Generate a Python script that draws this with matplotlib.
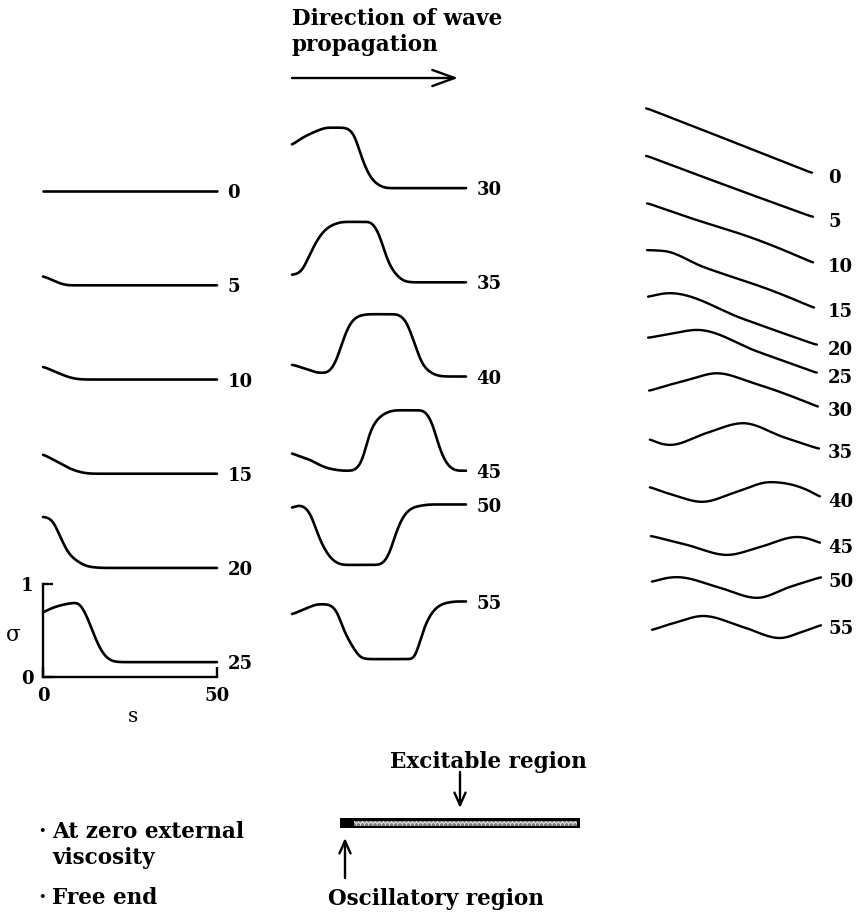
import numpy as np
import matplotlib
matplotlib.use("Agg")
import matplotlib.pyplot as plt
from matplotlib.patches import Rectangle, FancyArrowPatch

plt.rcParams["font.family"] = ["DejaVu Serif"]
plt.rcParams["font.weight"] = "bold"

# ---------------------------------------------------------------------------
# Data: curvature profiles sigma(s) along the filament (s = 0 .. 50)
# ---------------------------------------------------------------------------
S_GRID = [0, 2.5, 5, 7.5, 10, 12.5, 15, 17.5, 20, 22.5, 25,
          27.5, 30, 32.5, 35, 37.5, 40, 42.5, 45, 47.5, 50]

LEFT_TIMES = [0, 5, 10, 15, 20, 25]
MID_TIMES = [30, 35, 40, 45, 50, 55]

sigma_t0 = [0.16, 0.16, 0.16, 0.16, 0.16, 0.16, 0.16, 0.16, 0.16, 0.16, 0.16,
            0.16, 0.16, 0.16, 0.16, 0.16, 0.16, 0.16, 0.16, 0.16, 0.16]
sigma_t5 = [0.26, 0.22, 0.18, 0.16, 0.16, 0.16, 0.16, 0.16, 0.16, 0.16, 0.16,
            0.16, 0.16, 0.16, 0.16, 0.16, 0.16, 0.16, 0.16, 0.16, 0.16]
sigma_t10 = [0.30, 0.26, 0.22, 0.185, 0.165, 0.16, 0.16, 0.16, 0.16, 0.16, 0.16,
             0.16, 0.16, 0.16, 0.16, 0.16, 0.16, 0.16, 0.16, 0.16, 0.16]
sigma_t15 = [0.37, 0.32, 0.27, 0.22, 0.185, 0.165, 0.16, 0.16, 0.16, 0.16, 0.16,
             0.16, 0.16, 0.16, 0.16, 0.16, 0.16, 0.16, 0.16, 0.16, 0.16]
sigma_t20 = [0.71, 0.68, 0.49, 0.31, 0.23, 0.18, 0.165, 0.16, 0.16, 0.16, 0.16,
             0.16, 0.16, 0.16, 0.16, 0.16, 0.16, 0.16, 0.16, 0.16, 0.16]
sigma_t25 = [0.69, 0.74, 0.77, 0.79, 0.80, 0.66, 0.42, 0.24, 0.17, 0.16, 0.16,
             0.16, 0.16, 0.16, 0.16, 0.16, 0.16, 0.16, 0.16, 0.16, 0.16]
sigma_t30 = [0.62, 0.69, 0.74, 0.78, 0.81, 0.81, 0.81, 0.76, 0.49, 0.28, 0.19,
             0.16, 0.16, 0.16, 0.16, 0.16, 0.16, 0.16, 0.16, 0.16, 0.16]
sigma_t35 = [0.24, 0.27, 0.45, 0.63, 0.74, 0.79, 0.81, 0.81, 0.81, 0.81, 0.68,
             0.39, 0.24, 0.17, 0.16, 0.16, 0.16, 0.16, 0.16, 0.16, 0.16]
sigma_t40 = [0.29, 0.26, 0.23, 0.20, 0.20, 0.31, 0.59, 0.77, 0.82, 0.83, 0.83,
             0.83, 0.83, 0.77, 0.54, 0.29, 0.20, 0.165, 0.16, 0.16, 0.16]
sigma_t45 = [0.35, 0.31, 0.28, 0.23, 0.19, 0.17, 0.16, 0.16, 0.25, 0.59, 0.73,
             0.79, 0.81, 0.81, 0.81, 0.81, 0.70, 0.39, 0.21, 0.16, 0.16]
sigma_t50 = [0.77, 0.80, 0.73, 0.48, 0.29, 0.19, 0.16, 0.16, 0.16, 0.16, 0.16,
             0.24, 0.52, 0.71, 0.78, 0.80, 0.81, 0.81, 0.81, 0.81, 0.81]
sigma_t55 = [0.64, 0.68, 0.72, 0.75, 0.75, 0.70, 0.46, 0.29, 0.17, 0.16, 0.16,
             0.16, 0.16, 0.16, 0.16, 0.45, 0.65, 0.74, 0.77, 0.78, 0.78]

LEFT_SIGMA = [sigma_t0, sigma_t5, sigma_t10, sigma_t15, sigma_t20, sigma_t25]
MID_SIGMA = [sigma_t30, sigma_t35, sigma_t40, sigma_t45, sigma_t50, sigma_t55]

# ---------------------------------------------------------------------------
# Data: filament shapes (horizontal position, lateral displacement), same units
# ---------------------------------------------------------------------------
RIGHT_TIMES = [0, 5, 10, 15, 20, 25, 30, 35, 40, 45, 50, 55]

shape_x = [
    [0.0, 23.9, 47.7],
    [0.0, 24.1, 48.0],
    [0.3, 11.8, 30.7, 48.0],
    [0.3, 4.9, 16.4, 35.6, 48.3],
    [0.6, 6.9, 27.9, 38.5, 49.1],
    [0.6, 6.9, 14.7, 31.9, 49.1],
    [0.9, 11.8, 20.4, 30.7, 49.4],
    [1.1, 6.9, 17.5, 27.9, 39.4, 49.7],
    [1.1, 7.8, 16.1, 26.1, 35.6, 50.0],
    [1.4, 11.8, 23.3, 32.8, 43.4, 50.0],
    [1.7, 8.9, 21.3, 31.9, 41.4, 50.3],
    [1.7, 8.9, 16.4, 27.9, 38.5, 44.8, 50.3],
]
shape_y = [
    [0.0, -9.3, -18.7],
    [0.0, -9.0, -17.7],
    [0.0, -4.0, -10.1, -17.2],
    [0.1, -0.1, -4.7, -11.3, -16.5],
    [0.3, 1.4, -6.0, -9.8, -13.5],
    [2.2, 3.3, 4.5, -1.7, -7.9],
    [0.6, 3.7, 5.7, 2.9, -4.0],
    [0.4, -1.3, 2.2, 5.0, 1.0, -2.4],
    [0.3, -2.0, -4.0, -1.1, 1.7, -2.6],
    [-0.1, -2.7, -5.6, -3.3, -0.4, -2.2],
    [0.3, 1.7, -1.4, -4.3, -1.1, 1.7],
    [0.1, 2.4, 4.2, 1.0, -2.2, -0.4, 1.6],
]

# ---------------------------------------------------------------------------
# Layout (figure pixels, measured from the top-left corner)
# ---------------------------------------------------------------------------
W, H = 859, 918
PANEL_W = 174          # pixels spanned by s = 0 .. 50
SIGMA_H = 93           # pixels spanned by sigma = 0 .. 1
LEFT_X0, MID_X0 = 43, 292
LEFT_BASE0, MID_BASE0, ROW_STEP = 206, 203, 94.2
RIGHT_X0, RIGHT_TOP, RIGHT_BOTTOM = 646, 90, 650
RIGHT_FIRST, RIGHT_STEP = 108, 47.5
PX_PER_UNIT = PANEL_W / 50.0

LW = 1.9
FS_NUM = 13
FS_TEXT = 15.5

fig = plt.figure(figsize=(W / 100, H / 100), dpi=100)


def rect(left, top, width, height):
    return [left / W, 1 - (top + height) / H, width / W, height / H]


def pchip(x, y, n=600):
    """Shape-preserving cubic through the given points."""
    x = np.asarray(x, float)
    y = np.asarray(y, float)
    h = np.diff(x)
    d = np.diff(y) / h
    m = np.zeros_like(y)
    if len(x) == 2:
        m[:] = d[0]
    else:
        for k in range(1, len(x) - 1):
            if d[k - 1] * d[k] > 0:
                w1 = 2 * h[k] + h[k - 1]
                w2 = h[k] + 2 * h[k - 1]
                m[k] = (w1 + w2) / (w1 / d[k - 1] + w2 / d[k])

        def end_slope(h0, h1, d0, d1):
            s = ((2 * h0 + h1) * d0 - h0 * d1) / (h0 + h1)
            if np.sign(s) != np.sign(d0):
                return 0.0
            if np.sign(d0) != np.sign(d1) and abs(s) > abs(3 * d0):
                return 3 * d0
            return s

        m[0] = end_slope(h[0], h[1], d[0], d[1])
        m[-1] = end_slope(h[-1], h[-2], d[-1], d[-2])
    xs = np.linspace(x[0], x[-1], n)
    i = np.clip(np.searchsorted(x, xs, side="right") - 1, 0, len(x) - 2)
    t = (xs - x[i]) / h[i]
    h00 = 2 * t**3 - 3 * t**2 + 1
    h10 = t**3 - 2 * t**2 + t
    h01 = -2 * t**3 + 3 * t**2
    h11 = t**3 - t**2
    ys = h00 * y[i] + h10 * h[i] * m[i] + h01 * y[i + 1] + h11 * h[i] * m[i + 1]
    return xs, ys


def smooth_curve(x, y, width=0.9):
    """PCHIP curve with its corners rounded by a small Gaussian kernel."""
    xs, ys = pchip(x, y)
    dx = xs[1] - xs[0]
    k = int(np.ceil(3 * width / dx))
    kern = np.exp(-0.5 * (np.arange(-k, k + 1) * dx / width) ** 2)
    kern /= kern.sum()
    padded = np.concatenate([np.full(k, ys[0]), ys, np.full(k, ys[-1])])
    return xs, np.convolve(padded, kern, mode="valid")


# Overlay in pixel units for annotations
ov = fig.add_axes([0, 0, 1, 1])
ov.set_xlim(0, W)
ov.set_ylim(H, 0)
ov.axis("off")


def sigma_panel(x0, base, times, values, idx, framed=False):
    ax = fig.add_axes(rect(x0, base - SIGMA_H, PANEL_W, SIGMA_H))
    ax.set_xlim(0, 50)
    ax.set_ylim(0, 1)
    xs, ys = smooth_curve(S_GRID, values)
    ax.plot(xs, ys, color="black", lw=LW, clip_on=False, solid_capstyle="round")
    ax.annotate(str(times[idx]), xy=(50, values[-1]), xytext=(7.5, -1.5),
                textcoords="offset points", ha="left", va="center",
                fontsize=FS_NUM, annotation_clip=False)
    if framed:
        for side in ("top", "right"):
            ax.spines[side].set_visible(False)
        for side in ("left", "bottom"):
            ax.spines[side].set_linewidth(1.7)
        ax.patch.set_alpha(0)
        ax.set_xticks([0, 50])
        ax.set_yticks([0, 1])
        ax.tick_params(direction="in", length=7.5, width=1.7,
                       labelsize=FS_NUM, pad=7)
        ax.set_xlabel("s", fontsize=FS_NUM + 1.5)
        ax.xaxis.set_label_coords(0.52, -0.43)
        ax.xaxis.label.set_va("center")
        ax.set_ylabel("σ", rotation=0, fontsize=FS_NUM + 2.5, fontweight="normal")
        ax.yaxis.set_label_coords(-0.17, 0.45)
        ax.yaxis.label.set_va("center")
        ax.yaxis.label.set_ha("center")
    else:
        ax.axis("off")
    return ax


for i, vals in enumerate(LEFT_SIGMA):
    sigma_panel(LEFT_X0, LEFT_BASE0 + ROW_STEP * i, LEFT_TIMES, vals, i,
                framed=(i == len(LEFT_SIGMA) - 1))

for i, vals in enumerate(MID_SIGMA):
    sigma_panel(MID_X0, MID_BASE0 + ROW_STEP * i, MID_TIMES, vals, i)

# Right column: filament shapes stacked in time
axr = fig.add_axes(rect(RIGHT_X0, RIGHT_TOP, PANEL_W, RIGHT_BOTTOM - RIGHT_TOP))
axr.set_xlim(0, 50)
axr.set_ylim(0, (RIGHT_BOTTOM - RIGHT_TOP) / PX_PER_UNIT)
axr.axis("off")
for k, (xk, yk) in enumerate(zip(shape_x, shape_y)):
    base = (RIGHT_BOTTOM - (RIGHT_FIRST + RIGHT_STEP * k)) / PX_PER_UNIT
    xs, ys = smooth_curve(xk, yk, width=0.8)
    axr.plot(xs, ys + base, color="black", lw=LW - 0.2, clip_on=False,
             solid_capstyle="round")
    axr.text(52.3, base + yk[-1] - 1.3, str(RIGHT_TIMES[k]), ha="left",
             va="center", fontsize=FS_NUM, clip_on=False)

# Heading and propagation arrow
ov.text(292, 25, "Direction of wave", ha="left", va="baseline", fontsize=FS_TEXT)
ov.text(292, 51, "propagation", ha="left", va="baseline", fontsize=FS_TEXT)
ov.add_patch(FancyArrowPatch((292, 78), (458, 78),
                             arrowstyle="->,head_length=16,head_width=5.8",
                             mutation_scale=1, lw=1.7, color="black",
                             shrinkA=0, shrinkB=0))

# Filament bar with oscillatory and excitable regions
ov.add_patch(Rectangle((340, 818), 240, 10, facecolor="black",
                       edgecolor="black", lw=0))
ov.add_patch(Rectangle((354, 820.5), 223, 5, facecolor="#d8d8d8",
                       edgecolor="#7a7a7a", lw=0, hatch="oooo"))
ov.text(488, 768, "Excitable region", ha="center", va="baseline", fontsize=FS_TEXT)
ov.add_patch(FancyArrowPatch((460, 772), (460, 808),
                             arrowstyle="->,head_length=9,head_width=4",
                             mutation_scale=1, lw=1.7, color="black",
                             shrinkA=0, shrinkB=0))
ov.add_patch(FancyArrowPatch((345, 878), (345, 838),
                             arrowstyle="->,head_length=9,head_width=4",
                             mutation_scale=1, lw=1.7, color="black",
                             shrinkA=0, shrinkB=0))
ov.text(436, 905, "Oscillatory region", ha="center", va="baseline", fontsize=FS_TEXT)

# Conditions
ov.text(38, 838, "·", ha="left", va="baseline", fontsize=FS_TEXT)
ov.text(52, 838, "At zero external", ha="left", va="baseline", fontsize=FS_TEXT)
ov.text(52, 864, "viscosity", ha="left", va="baseline", fontsize=FS_TEXT)
ov.text(38, 904, "·", ha="left", va="baseline", fontsize=FS_TEXT)
ov.text(52, 904, "Free end", ha="left", va="baseline", fontsize=FS_TEXT)

fig.savefig("out.png", dpi=100, facecolor="white")
